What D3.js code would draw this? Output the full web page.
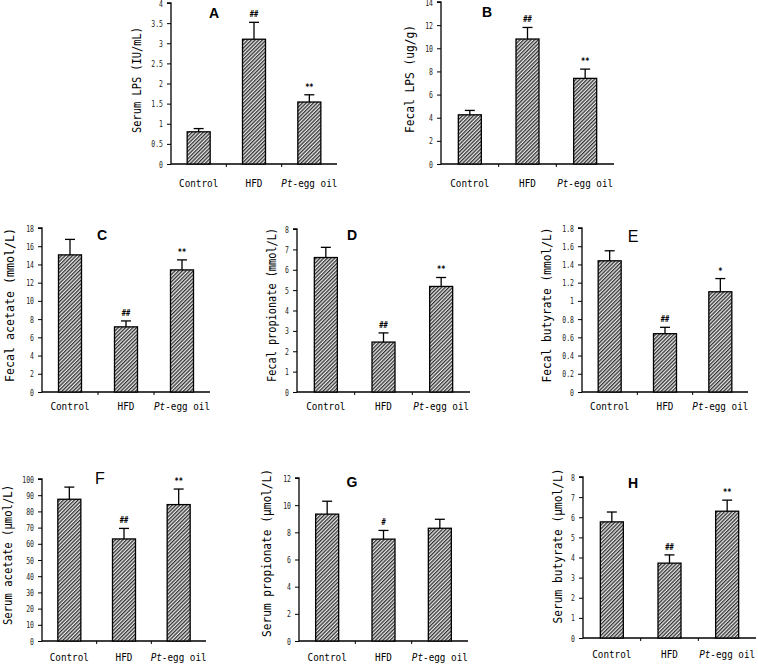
<!DOCTYPE html>
<html><head><meta charset="utf-8">
<script src="https://cdn.jsdelivr.net/npm/d3@7"></script>
<style>body{margin:0;background:#fff}svg{display:block}</style>
</head><body>
<script>
// ---------- data ----------
const categories = ["Control", "HFD", "Pt-egg oil"];
const meanA = [0.80, 3.10, 1.54], sdA = [0.08, 0.42, 0.18], sigA = ["", "##", "**"];
const meanB = [4.25, 10.8, 7.4],  sdB = [0.38, 1.0, 0.8],   sigB = ["", "##", "**"];
const meanC = [15.05, 7.15, 13.4], sdC = [1.7, 0.65, 1.1],  sigC = ["", "##", "**"];
const meanD = [6.6, 2.45, 5.18],  sdD = [0.5, 0.45, 0.44],  sigD = ["", "##", "**"];
const meanE = [1.44, 0.64, 1.10], sdE = [0.11, 0.07, 0.145], sigE = ["", "##", "*"];
const meanF = [87.5, 63, 84.2],   sdF = [7.5, 6.5, 9.6],    sigF = ["", "##", "**"];
const meanG = [9.34, 7.5, 8.3],   sdG = [0.95, 0.64, 0.66], sigG = ["", "#", ""];
const meanH = [5.77, 3.72, 6.3],  sdH = [0.49, 0.41, 0.55], sigH = ["", "##", "**"];
const ticksA = [0, 0.5, 1, 1.5, 2, 2.5, 3, 3.5, 4];
const ticksB = [0, 2, 4, 6, 8, 10, 12, 14];
const ticksC = [0, 2, 4, 6, 8, 10, 12, 14, 16, 18];
const ticksD = [0, 1, 2, 3, 4, 5, 6, 7, 8];
const ticksE = [0, 0.2, 0.4, 0.6, 0.8, 1, 1.2, 1.4, 1.6, 1.8];
const ticksF = [0, 10, 20, 30, 40, 50, 60, 70, 80, 90, 100];
const ticksG = [0, 2, 4, 6, 8, 10, 12];
const ticksH = [0, 1, 2, 3, 4, 5, 6, 7, 8];
const titles = ["Serum LPS (IU/mL)", "Fecal LPS (ug/g)", "Fecal acetate (mmol/L)",
  "Fecal propionate (mmol/L)", "Fecal butyrate (mmol/L)", "Serum acetate (\u03bcmol/L)",
  "Serum  propionate (\u03bcmol/L)", "Serum butyrate (\u03bcmol/L)"];
const letters = ["A", "B", "C", "D", "E", "F", "G", "H"];

// ---------- layout ----------
const panels = [
  {mean: meanA, sd: sdA, sig: sigA, ticks: ticksA, x0: 171, x1: 337, yTop: 3, yBot: 164, lx: 214, ly: 18, bold: true, tx: 137, ty: 80, tl: 106, cy: 187},
  {mean: meanB, sd: sdB, sig: sigB, ticks: ticksB, x0: 441, x1: 614, yTop: 2, yBot: 164, lx: 487, ly: 17, bold: true, tx: 410, ty: 79, tl: 108, cy: 187},
  {mean: meanC, sd: sdC, sig: sigC, ticks: ticksC, x0: 42, x1: 210, yTop: 228, yBot: 392, lx: 102, ly: 240, bold: true, tx: 10, ty: 305, tl: 154, cy: 410},
  {mean: meanD, sd: sdD, sig: sigD, ticks: ticksD, x0: 297, x1: 470, yTop: 229, yBot: 392, lx: 352, ly: 240, bold: true, tx: 272, ty: 305, tl: 154, cy: 410},
  {mean: meanE, sd: sdE, sig: sigE, ticks: ticksE, x0: 582, x1: 748, yTop: 228, yBot: 392, lx: 633, ly: 242, bold: false, tx: 547, ty: 305, tl: 155, cy: 410},
  {mean: meanF, sd: sdF, sig: sigF, ticks: ticksF, x0: 42, x1: 206, yTop: 479, yBot: 641, lx: 100, ly: 484, bold: false, tx: 8, ty: 555, tl: 140, cy: 661},
  {mean: meanG, sd: sdG, sig: sigG, ticks: ticksG, x0: 299, x1: 468, yTop: 478, yBot: 641, lx: 352, ly: 487, bold: true, tx: 267, ty: 553, tl: 168, cy: 661},
  {mean: meanH, sd: sdH, sig: sigH, ticks: ticksH, x0: 583, x1: 756, yTop: 477, yBot: 638, lx: 633, ly: 488, bold: true, tx: 558, ty: 546, tl: 155, cy: 658}
];

const W = 758, H = 664;
const mono = "'DejaVu Sans Mono', monospace";
const svg = d3.select("body").append("svg").attr("width", W).attr("height", H);

const defs = svg.append("defs");
const pat = defs.append("pattern").attr("id", "hatch").attr("patternUnits", "userSpaceOnUse")
  .attr("width", 2.6).attr("height", 2.6).attr("patternTransform", "rotate(45)");
pat.append("rect").attr("width", 2.6).attr("height", 2.6).attr("fill", "#e8e8e8");
pat.append("line").attr("x1", 0.65).attr("y1", 0).attr("x2", 0.65).attr("y2", 2.6)
  .attr("stroke", "#333").attr("stroke-width", 1.3);

panels.forEach((p, i) => {
  const g = svg.append("g");
  const y = d3.scaleLinear().domain([p.ticks[0], p.ticks[p.ticks.length - 1]]).range([p.yBot, p.yTop]);
  const x = d3.scaleBand().domain(categories).range([p.x0, p.x1]);
  const bw = 23;

  // y axis
  const ya = g.append("g").attr("transform", `translate(${p.x0},0)`)
    .call(d3.axisLeft(y).tickValues(p.ticks).tickSize(4).tickFormat(d => String(+d.toFixed(2))));
  ya.select(".domain").attr("stroke", "#000").attr("stroke-width", 1.3).attr("d", `M-4,${p.yTop}H0V${p.yBot}`);
  ya.selectAll(".tick line").attr("stroke", "#000").attr("stroke-width", 1);
  ya.selectAll(".tick text").attr("x", -8).attr("font-family", mono).attr("font-size", 9.5)
    .attr("fill", "#222")
    .attr("textLength", function () { return this.textContent.length * 3.9; })
    .attr("lengthAdjust", "spacingAndGlyphs");

  // x axis
  g.append("line").attr("x1", p.x0).attr("x2", p.x1).attr("y1", p.yBot).attr("y2", p.yBot)
    .attr("stroke", "#000").attr("stroke-width", 1.3);
  g.selectAll(".xt").data(categories.slice(1)).enter().append("line")
    .attr("x1", d => x(d)).attr("x2", d => x(d)).attr("y1", p.yBot).attr("y2", p.yBot + 3)
    .attr("stroke", "#000").attr("stroke-width", 1);

  // bars
  g.selectAll(".bar").data(p.mean).enter().append("rect")
    .attr("x", (d, j) => x(categories[j]) + x.bandwidth() / 2 - bw / 2)
    .attr("y", d => y(d)).attr("width", bw).attr("height", d => y(0) - y(d))
    .attr("fill", "url(#hatch)").attr("stroke", "#000").attr("stroke-width", 1.3);

  // error bars
  p.mean.forEach((m, j) => {
    const cx = x(categories[j]) + x.bandwidth() / 2;
    const top = y(m + p.sd[j]);
    g.append("line").attr("x1", cx).attr("x2", cx).attr("y1", y(m)).attr("y2", top)
      .attr("stroke", "#000").attr("stroke-width", 1.3);
    g.append("line").attr("x1", cx - 5).attr("x2", cx + 5).attr("y1", top).attr("y2", top)
      .attr("stroke", "#000").attr("stroke-width", 1.3);
    if (p.sig[j]) {
      g.append("text").attr("x", cx).attr("y", top - 5).attr("text-anchor", "middle")
        .attr("font-family", mono).attr("font-size", 9).attr("font-weight", "bold")
        .attr("textLength", p.sig[j].length * 4.2).attr("lengthAdjust", "spacingAndGlyphs")
        .text(p.sig[j]);
    }
  });

  // category labels
  categories.forEach((c, j) => {
    const cx = x(c) + x.bandwidth() / 2;
    const t = g.append("text").attr("x", cx).attr("y", p.cy).attr("text-anchor", "middle")
      .attr("font-family", mono).attr("font-size", 11).attr("fill", "#000")
      .attr("textLength", c.length * 5.6).attr("lengthAdjust", "spacingAndGlyphs");
    if (c.startsWith("Pt")) {
      t.append("tspan").attr("font-style", "italic").text("Pt");
      t.append("tspan").text("-egg oil");
    } else {
      t.text(c);
    }
  });

  // y title
  g.append("text").attr("transform", `translate(${p.tx},${p.ty}) rotate(-90)`)
    .attr("text-anchor", "middle").attr("dominant-baseline", "middle")
    .attr("font-family", mono).attr("font-size", 12).attr("fill", "#000")
    .attr("textLength", p.tl).attr("lengthAdjust", "spacingAndGlyphs")
    .text(titles[i]);

  // panel letter
  g.append("text").attr("x", p.lx).attr("y", p.ly).attr("text-anchor", "middle")
    .attr("font-family", "'Liberation Sans', Arial, sans-serif")
    .attr("font-size", p.bold ? 14 : 16).attr("font-weight", p.bold ? "bold" : "normal")
    .text(letters[i]);
});
</script>
</body></html>
